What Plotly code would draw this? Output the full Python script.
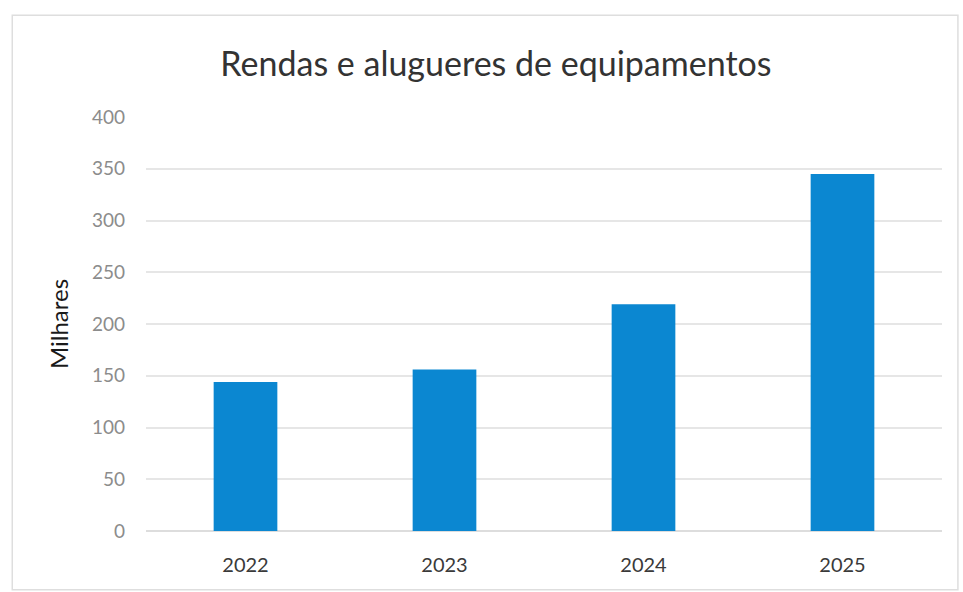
import plotly.graph_objects as go

# Annual rent and equipment leasing costs (thousands)
years = ["2022", "2023", "2024", "2025"]
values = [144, 156, 219, 345]
y_ticks = [0, 50, 100, 150, 200, 250, 300, 350, 400]

title_text = "Rendas e alugueres de equipamentos"
y_title = "Milhares"

fig = go.Figure(
    go.Bar(
        x=years,
        y=values,
        marker=dict(color="#0b87d1", line=dict(width=0)),
        hoverinfo="x+y",
    )
)

fig.update_layout(
    width=963,
    height=592,
    paper_bgcolor="white",
    plot_bgcolor="white",
    bargap=0.68,
    showlegend=False,
    margin=dict(l=146, r=21, t=117, b=61),
    title=dict(
        text=title_text,
        x=0.515,
        xanchor="center",
        y=0.892,
        yanchor="middle",
        font=dict(family="Lato, Open Sans, sans-serif", size=34, color="#333333"),
    ),
    font=dict(family="Lato, Open Sans, sans-serif"),
    shapes=[
        # faint chart-area frame
        dict(
            type="rect",
            xref="paper", yref="paper",
            x0=-0.168, x1=1.02, y0=-0.142, y1=1.246,
            line=dict(color="#dedede", width=1.5),
        )
    ],
)

fig.update_xaxes(
    showgrid=False,
    showline=False,
    ticks="",
    tickfont=dict(size=20, color="#3a3a3a"),
    ticklabelstandoff=20,
)

fig.update_yaxes(
    range=[0, 400],
    tickvals=y_ticks,
    showgrid=True,
    gridcolor="#e6e6e6",
    gridwidth=1.5,
    zeroline=True,
    zerolinecolor="#dddddd",
    zerolinewidth=1.5,
    showline=False,
    ticks="",
    tickfont=dict(size=19, color="#8c8c8c"),
    ticklabelstandoff=20,
    title=dict(text=y_title, font=dict(size=24, color="#1a1a1a"), standoff=16),
)

fig.write_html("out.html")
